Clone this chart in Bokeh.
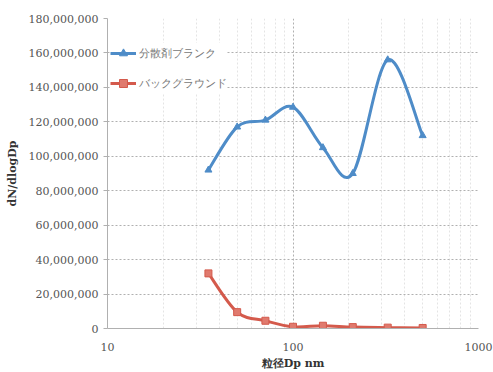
import numpy as np
from bokeh.plotting import figure
from bokeh.models import NumeralTickFormatter, Legend, LegendItem, Range1d, FixedTicker
from bokeh.embed import file_html
from bokeh.resources import INLINE

# Data
dp = [35, 50, 71, 100, 145, 210, 324, 500]
blank = [92e6, 117e6, 121e6, 128.5e6, 105e6, 90e6, 156e6, 112e6]
background = [32e6, 9.5e6, 4.5e6, 1.0e6, 1.6e6, 0.8e6, 0.5e6, 0.3e6]
series_names = ["分散剤ブランク", "バックグラウンド"]
y_ticks = [0, 20e6, 40e6, 60e6, 80e6, 100e6, 120e6, 140e6, 160e6, 180e6]
x_ticks = [10, 100, 1000]
x_minor = [m * d for d in (10, 100) for m in range(2, 10)]

BLUE = "#4E8CC8"
RED = "#D45A4C"
TXT = "#555555"
FONT = "DejaVu Serif"


def smooth_segments(xs, ys):
    """Catmull-Rom style bezier control points in (log10 x, y) space."""
    lx = np.log10(np.asarray(xs, float))
    y = np.asarray(ys, float)
    n = len(lx)
    seg = dict(x0=[], y0=[], x1=[], y1=[], cx0=[], cy0=[], cx1=[], cy1=[])
    for i in range(n - 1):
        p0 = (lx[i - 1], y[i - 1]) if i > 0 else (lx[i], y[i])
        p1 = (lx[i], y[i])
        p2 = (lx[i + 1], y[i + 1])
        p3 = (lx[i + 2], y[i + 2]) if i + 2 < n else (lx[i + 1], y[i + 1])
        c1 = (p1[0] + (p2[0] - p0[0]) / 6, p1[1] + (p2[1] - p0[1]) / 6)
        c2 = (p2[0] - (p3[0] - p1[0]) / 6, p2[1] - (p3[1] - p1[1]) / 6)
        seg["x0"].append(10 ** p1[0]); seg["y0"].append(p1[1])
        seg["x1"].append(10 ** p2[0]); seg["y1"].append(p2[1])
        seg["cx0"].append(10 ** c1[0]); seg["cy0"].append(c1[1])
        seg["cx1"].append(10 ** c2[0]); seg["cy1"].append(c2[1])
    return seg


p = figure(width=493, height=372, x_axis_type="log",
           x_range=Range1d(10, 1000), y_range=Range1d(0, 180e6),
           output_backend="svg", toolbar_location=None,
           min_border_left=107, min_border_right=15, min_border_top=18, min_border_bottom=40)
p.outline_line_color = None
p.background_fill_color = "white"

# axes
p.xaxis.ticker = FixedTicker(ticks=x_ticks, minor_ticks=x_minor)
p.xaxis.formatter = NumeralTickFormatter(format="0")
p.yaxis.ticker = FixedTicker(ticks=y_ticks)
p.yaxis.formatter = NumeralTickFormatter(format="0,0")
for ax in (p.xaxis, p.yaxis):
    ax.axis_line_color = "#b0b0b0"
    ax.major_tick_line_color = "#b0b0b0"
    ax.major_tick_in = 0
    ax.minor_tick_line_color = None
    ax.major_label_text_font = FONT
    ax.major_label_text_font_size = "11px"
    ax.major_label_text_color = TXT
    ax.axis_label_text_font = FONT
    ax.axis_label_text_font_size = "11px"
    ax.axis_label_text_font_style = "bold"
    ax.axis_label_text_color = "#333333"
p.yaxis.major_tick_out = 4
p.xaxis.major_tick_out = 0
p.yaxis.axis_label = "dN/dlogDp"
p.xaxis.axis_label = "粒径Dp nm"
p.xaxis.axis_label_standoff = 3
p.yaxis.axis_label_standoff = 7
p.xaxis.major_label_standoff = 10

# grids
p.ygrid.grid_line_color = "#b0b0b0"
p.ygrid.grid_line_dash = "2 2"
p.xgrid.grid_line_color = "#b0b0b0"
p.xgrid.grid_line_dash = "2 2"
p.xgrid.minor_grid_line_color = "#e4e4e4"
p.xgrid.minor_grid_line_dash = "2 2"

# series
sb = smooth_segments(dp, blank)
sr = smooth_segments(dp, background)
rb_line = p.bezier(source=sb, x0="x0", y0="y0", x1="x1", y1="y1", cx0="cx0", cy0="cy0",
                   cx1="cx1", cy1="cy1", line_color=BLUE, line_width=3)
rr_line = p.bezier(source=sr, x0="x0", y0="y0", x1="x1", y1="y1", cx0="cx0", cy0="cy0",
                   cx1="cx1", cy1="cy1", line_color=RED, line_width=3)
rb_m = p.scatter(dp, blank, marker="triangle", size=7, fill_color=BLUE, line_color=BLUE)
rr_m = p.scatter(dp, background, marker="square", size=7, fill_color="#E07A6E", line_color=RED)

legend = Legend(items=[LegendItem(label=series_names[0], renderers=[rb_line, rb_m]),
                       LegendItem(label=series_names[1], renderers=[rr_line, rr_m])],
                location=(3, 235), margin=0, padding=5, spacing=10,
                glyph_width=26, glyph_height=20, label_standoff=3,
                label_text_font=FONT, label_text_font_size="11px",
                label_text_color="#777777",
                border_line_color=None, background_fill_color="white",
                background_fill_alpha=1.0)
p.add_layout(legend, "center")

open("out.html", "w").write(file_html(p, INLINE))
